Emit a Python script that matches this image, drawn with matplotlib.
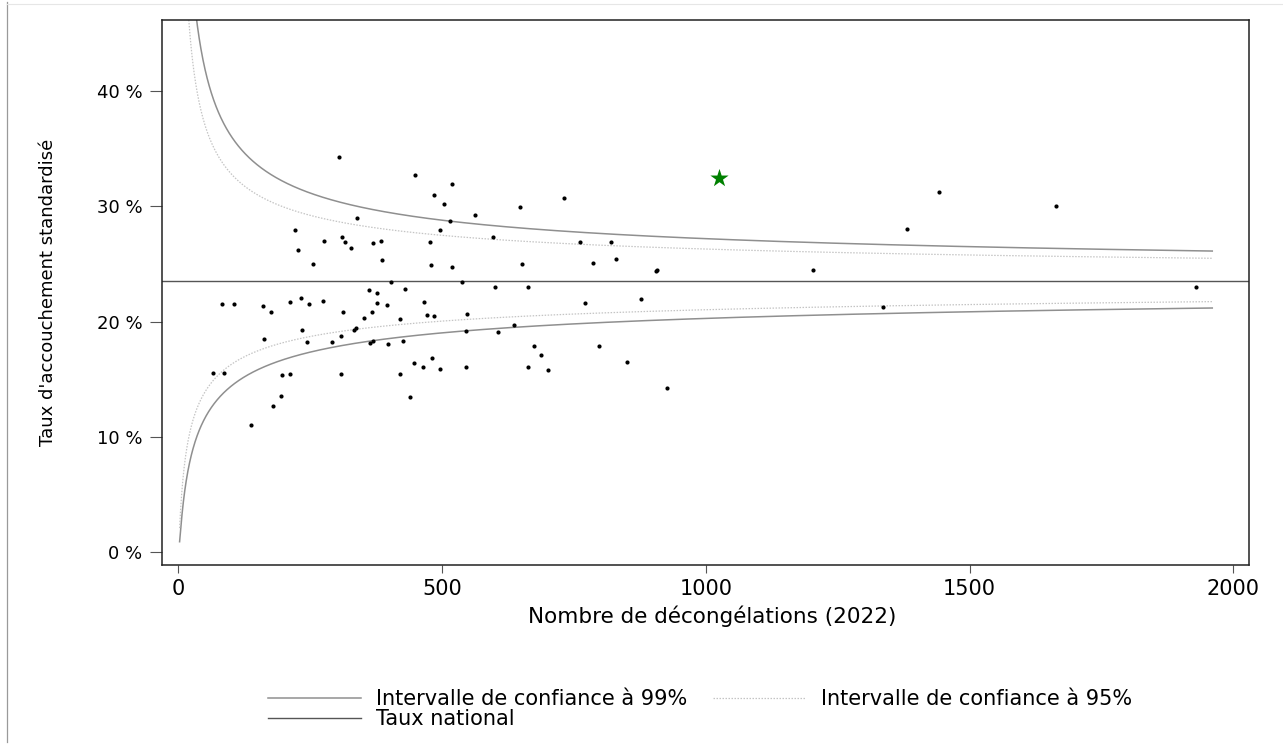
import numpy as np
import matplotlib
matplotlib.use('Agg')
import matplotlib.pyplot as plt
from matplotlib.lines import Line2D

# ---------------- data ----------------
national_rate = 23.55   # national rate, %
n_max = 1960            # last volume for the funnel limits

centre_x = [305, 449, 486, 340, 222, 228, 277, 311, 317, 327, 369, 384, 387, 256,
            478, 480, 496, 403, 362, 378, 430, 83, 106, 161, 176, 212, 233, 249,
            275, 378, 396, 313, 368, 352, 466, 420, 472, 486, 337, 333, 235, 163,
            245, 292, 309, 369, 364, 398, 427, 66, 87, 197, 212, 309, 421, 447,
            464, 481, 496, 196, 180, 439, 139,
            519, 505, 731, 649, 562, 515, 597, 761, 820, 519, 651, 786, 830, 906,
            908, 539, 600, 663, 771, 877, 548, 546, 606, 637, 675, 797, 688, 546,
            664, 702, 850, 927,
            1442, 1663, 1381, 1203, 1336, 1930]
centre_y = [34.3, 32.7, 31.0, 29.0, 27.9, 26.2, 27.0, 27.3, 26.9, 26.4, 26.8, 26.95, 25.3, 25.0,
            26.9, 24.9, 27.9, 23.4, 22.7, 22.5, 22.8, 21.55, 21.5, 21.35, 20.8, 21.65, 22.0, 21.55,
            21.8, 21.6, 21.4, 20.8, 20.8, 20.3, 21.7, 20.25, 20.6, 20.5, 19.45, 19.25, 19.25, 18.5,
            18.2, 18.25, 18.75, 18.35, 18.1, 18.05, 18.3, 15.5, 15.5, 15.35, 15.45, 15.45, 15.45, 16.4,
            16.05, 16.8, 15.9, 13.55, 12.7, 13.45, 11.05,
            31.9, 30.2, 30.7, 29.9, 29.2, 28.7, 27.3, 26.9, 26.9, 24.7, 25.0, 25.1, 25.4, 24.35,
            24.45, 23.4, 23.0, 23.0, 21.6, 21.95, 20.65, 19.2, 19.1, 19.7, 17.9, 17.9, 17.1, 16.05,
            16.1, 15.8, 16.5, 14.2,
            31.2, 30.05, 28.0, 24.5, 21.25, 22.95]

highlight_x = [1026]
highlight_y = [32.4]

x_ticks = [0, 500, 1000, 1500, 2000]
x_tick_labels = ['0', '500', '1000', '1500', '2000']
y_ticks = [0, 10, 20, 30, 40]
y_tick_labels = ['0 %', '10 %', '20 %', '30 %', '40 %']

x_label = 'Nombre de décongélations (2022)'
y_label = "Taux d'accouchement standardisé"
legend_labels = ['Intervalle de confiance à 99%', 'Taux national',
                 'Intervalle de confiance à 95%']


def funnel_limits(n, z):
    """Control limits around the national rate (logit scale)."""
    p = national_rate / 100.0
    lp = np.log(p / (1 - p))
    se = 1.0 / np.sqrt(n * p * (1 - p))
    lo = 100.0 / (1 + np.exp(-(lp - z * se)))
    hi = 100.0 / (1 + np.exp(-(lp + z * se)))
    return lo, hi


# ---------------- figure ----------------
plt.rcParams['font.family'] = ['DejaVu Sans']
W, H = 1283, 749
fig = plt.figure(figsize=(W / 100, H / 100), dpi=100)
fig.patch.set_facecolor('white')

ax_l, ax_r, ax_t, ax_b = 161.5, 1249, 20, 565
ax = fig.add_axes([ax_l / W, (H - ax_b) / H, (ax_r - ax_l) / W, (ax_b - ax_t) / H])

n_grid = np.linspace(3, n_max, 3000)
lo99, hi99 = funnel_limits(n_grid, 2.576)
lo95, hi95 = funnel_limits(n_grid, 1.960)

c99, c95, cnat = '#8f8f8f', '#c4c4c4', '#555555'
l99, = ax.plot(n_grid, hi99, color=c99, lw=1.1, zorder=2)
ax.plot(n_grid, lo99, color=c99, lw=1.1, zorder=2)
l95, = ax.plot(n_grid, hi95, color=c95, lw=0.9, ls=(0, (1.2, 1.2)), zorder=2)
ax.plot(n_grid, lo95, color=c95, lw=0.9, ls=(0, (1.2, 1.2)), zorder=2)
lnat = ax.axhline(national_rate, color=cnat, lw=1.0, zorder=2)

ax.scatter(centre_x, centre_y, s=9, c='black', linewidths=0, zorder=3)
ax.scatter(highlight_x, highlight_y, marker='*', s=190, c='#008000',
           linewidths=0, zorder=4)

ax.set_xlim(-31.3, 2029.6)
ax.set_ylim(-1.10, 46.13)

ax.set_xticks(x_ticks)
ax.set_xticklabels(x_tick_labels, fontsize=15)
ax.set_yticks(y_ticks)
ax.set_yticklabels(y_tick_labels, fontsize=13)
ax.tick_params(axis='x', length=6, width=0.8, color='#555555', pad=4)
ax.tick_params(axis='y', length=8.6, width=0.8, color='#555555', pad=5)

for sp in ax.spines.values():
    sp.set_color('#222222')
    sp.set_linewidth(1.1)

ax.set_xlabel(x_label, fontsize=15.5)
ax.xaxis.set_label_coords(0.506, -0.075)
ax.set_ylabel(y_label, fontsize=13)
ax.yaxis.set_label_coords(-0.096, 0.5)

fs_leg = 15
px_per_fs = fs_leg * 100 / 72
leg = fig.legend([l99, lnat, l95], legend_labels, ncol=2, frameon=False,
                 loc='center left', bbox_to_anchor=(268 / W, (H - 709) / H),
                 fontsize=fs_leg, handlelength=93 / px_per_fs,
                 handletextpad=15 / px_per_fs, columnspacing=26 / px_per_fs,
                 labelspacing=0.0, borderpad=0, borderaxespad=0)

# thin page frame lines of the original export
fig.add_artist(Line2D([7 / W, 7 / W], [(H - 2) / H, (H - 742) / H],
                      transform=fig.transFigure, color='#9a9a9a', lw=0.9))
fig.add_artist(Line2D([7 / W, 1], [(H - 4) / H, (H - 4) / H],
                      transform=fig.transFigure, color='#e6e6e6', lw=0.8))

fig.savefig('out.png', dpi=100, facecolor='white')
